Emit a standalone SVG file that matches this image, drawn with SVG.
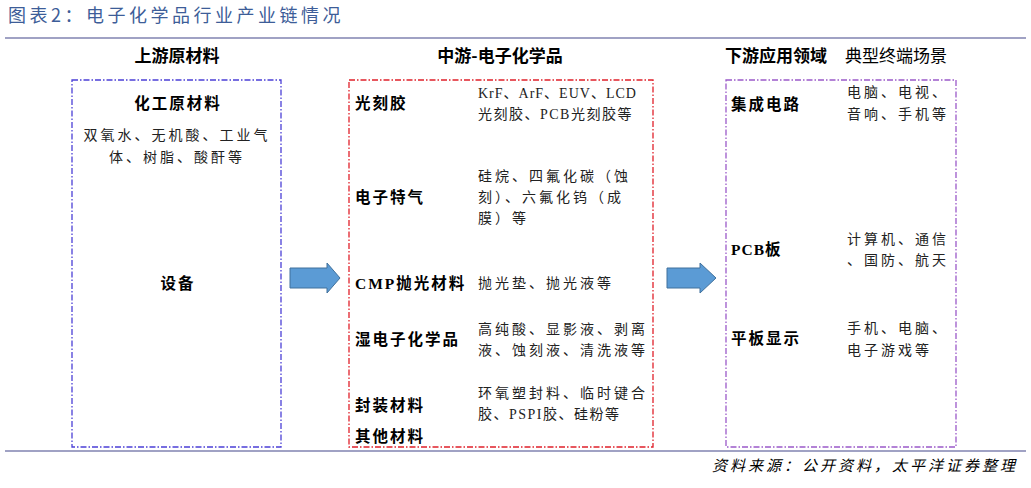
<svg xmlns="http://www.w3.org/2000/svg" width="1031" height="488" viewBox="0 0 1031 488">
<style>
.title{font-family:"Noto Sans CJK SC","Noto Sans",sans-serif;font-size:18px;fill:#3d5d98;letter-spacing:3.5px}
.hdr{font-family:"Noto Sans CJK SC",sans-serif;font-size:17px;font-weight:bold;fill:#000}
.hdrn{font-family:"Noto Sans CJK SC",sans-serif;font-size:17px;fill:#000}
.lbl{font-family:"Liberation Serif","Noto Sans CJK SC",serif;font-size:15.5px;font-weight:bold;fill:#000;letter-spacing:2px}
.txt{font-family:"Liberation Serif","Noto Sans CJK SC",serif;font-size:14px;fill:#222;letter-spacing:3px}
.src{font-family:"Noto Sans CJK SC",sans-serif;font-size:15px;font-style:italic;fill:#000;letter-spacing:3px}
.rule{stroke:#8083b0;stroke-width:1.5}
.box{fill:none;stroke-width:1.3;stroke-dasharray:6 2 1.5 2}
.arrow{fill:#5b9bd5;stroke:#41719c;stroke-width:1}
</style>
<rect width="1031" height="488" fill="#fff"/>
<text class="title" x="8" y="22">图表2：电子化学品行业产业链情况</text>
<line class="rule" x1="5" y1="38" x2="1026" y2="38"/>
<line class="rule" x1="5" y1="451" x2="1026" y2="451"/>
<text class="src" x="1018" y="471" text-anchor="end">资料来源：公开资料，太平洋证券整理</text>

<g id="headers">
<text class="hdr" x="177" y="62" text-anchor="middle">上游原材料</text>
<text class="hdr" x="500" y="62" text-anchor="middle">中游-电子化学品</text>
<text class="hdr" x="725" y="62">下游应用领域</text>
<text class="hdrn" x="845" y="62">典型终端场景</text>
</g>

<g id="upstream">
<rect class="box" x="72" y="80" width="209" height="367" stroke="#4b3fd6"/>
<text class="lbl" x="178" y="109" text-anchor="middle">化工原材料</text>
<text class="txt" x="177" y="140" text-anchor="middle">双氧水、无机酸、工业气</text>
<text class="txt" x="177" y="162" text-anchor="middle">体、树脂、酸酐等</text>
<text class="lbl" x="178" y="289" text-anchor="middle">设备</text>
</g>

<g id="midstream">
<rect class="box" x="349" y="80" width="304" height="367" stroke="#e0202a"/>
<text class="lbl" x="355" y="109">光刻胶</text>
<text class="txt" x="478" y="98" style="letter-spacing:1px">KrF、ArF、EUV、LCD</text>
<text class="txt" x="478" y="119" style="letter-spacing:1.5px">光刻胶、PCB光刻胶等</text>
<text class="lbl" x="355" y="203">电子特气</text>
<text class="txt" x="478" y="181">硅烷、四氟化碳（蚀</text>
<text class="txt" x="478" y="202">刻）、六氟化钨（成</text>
<text class="txt" x="478" y="223">膜）等</text>
<text class="lbl" x="355" y="289" style="letter-spacing:2px">CMP抛光材料</text>
<text class="txt" x="478" y="288">抛光垫、抛光液等</text>
<text class="lbl" x="355" y="345">湿电子化学品</text>
<text class="txt" x="478" y="334">高纯酸、显影液、剥离</text>
<text class="txt" x="478" y="355">液、蚀刻液、清洗液等</text>
<text class="lbl" x="355" y="411">封装材料</text>
<text class="txt" x="478" y="398">环氧塑封料、临时键合</text>
<text class="txt" x="478" y="419" style="letter-spacing:1.5px">胶、PSPI胶、硅粉等</text>
<text class="lbl" x="355" y="442">其他材料</text>
</g>

<g id="downstream">
<rect class="box" x="726" y="80" width="230" height="367" stroke="#9b59c9"/>
<text class="lbl" x="731" y="110">集成电路</text>
<text class="txt" x="847" y="97">电脑、电视、</text>
<text class="txt" x="847" y="119">音响、手机等</text>
<text class="lbl" x="731" y="255" style="letter-spacing:1px">PCB板</text>
<text class="txt" x="847" y="244">计算机、通信</text>
<text class="txt" x="847" y="265">、国防、航天</text>
<text class="lbl" x="731" y="344">平板显示</text>
<text class="txt" x="847" y="333">手机、电脑、</text>
<text class="txt" x="847" y="355">电子游戏等</text>
</g>

<g id="connectors">
<path class="arrow" d="M290,268 H327 V263 L340,278 L327,293 V288 H290 Z"/>
<path class="arrow" d="M667,268 H700 V263 L716,278 L700,293 V288 H667 Z"/>
</g>
</svg>
